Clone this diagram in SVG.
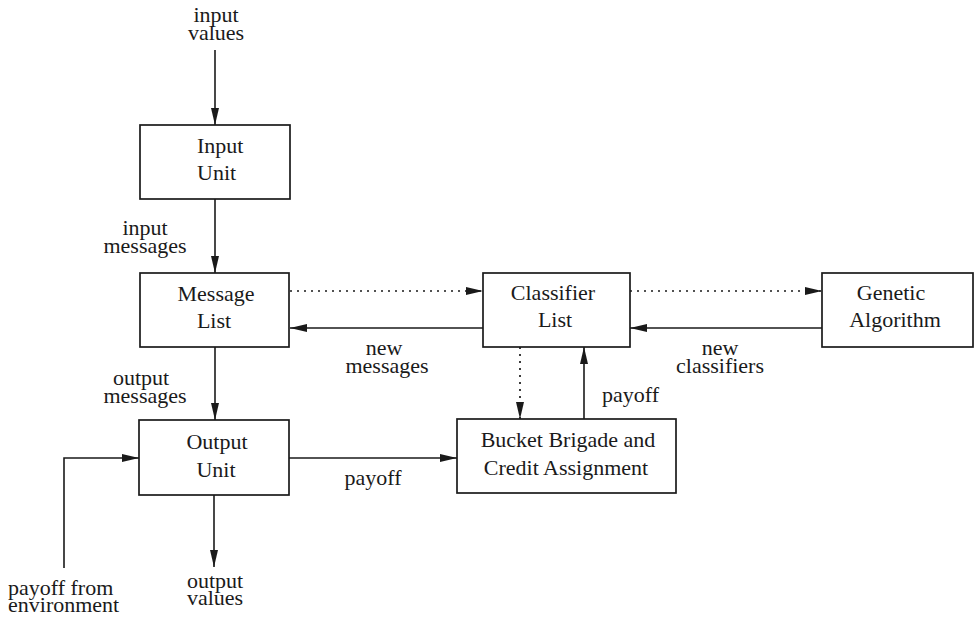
<svg xmlns="http://www.w3.org/2000/svg" width="975" height="620" viewBox="0 0 975 620">
  <style>
    .box { fill: #fff; stroke: #1a1a1a; stroke-width: 1.7; }
    .t { font-family: "Liberation Serif", "Times New Roman", serif; font-size: 22px; fill: #1a1a1a; }
    .c { text-anchor: middle; }
    .line { fill: none; stroke: #1a1a1a; stroke-width: 1.6; }
    .dot { fill: none; stroke: #1a1a1a; stroke-width: 1.7; stroke-dasharray: 2 5; }
  </style>
  <defs>
    <marker id="arrow" viewBox="0 0 17 8" refX="17" refY="4" markerWidth="17" markerHeight="8" markerUnits="userSpaceOnUse" orient="auto">
      <path d="M0,0 L17,4 L0,8 Z" fill="#1a1a1a"/>
    </marker>
  </defs>
  <rect width="975" height="620" fill="#fff"/>

  <g id="connectors">
    <path class="line" d="M215,50 V125" marker-end="url(#arrow)"/>
    <path class="line" d="M215,199 V273" marker-end="url(#arrow)"/>
    <path class="line" d="M215,347 V420" marker-end="url(#arrow)"/>
    <path class="line" d="M214,495 V567" marker-end="url(#arrow)"/>
    <path class="line" d="M64,568 V458 H139" marker-end="url(#arrow)"/>
    <path class="line" d="M289,458 H457" marker-end="url(#arrow)"/>
    <path class="dot" d="M290,291 H483" marker-end="url(#arrow)"/>
    <path class="line" d="M483,328 H290" marker-end="url(#arrow)"/>
    <path class="dot" d="M630,291 H822" marker-end="url(#arrow)"/>
    <path class="line" d="M822,328 H630" marker-end="url(#arrow)"/>
    <path class="dot" d="M520,347 V419" marker-end="url(#arrow)"/>
    <path class="line" d="M584,419 V347" marker-end="url(#arrow)"/>
  </g>

  <g id="input-values">
    <text class="t c" x="216" y="22">input</text>
    <text class="t c" x="216" y="40">values</text>
  </g>
  <g id="input-unit">
    <rect class="box" x="140" y="125" width="150" height="74"/>
    <text class="t" x="197" y="153">Input</text>
    <text class="t" x="197" y="180">Unit</text>
  </g>
  <g id="input-messages">
    <text class="t c" x="145" y="235">input</text>
    <text class="t c" x="145" y="253">messages</text>
  </g>
  <g id="message-list">
    <rect class="box" x="140" y="273" width="149" height="74"/>
    <text class="t c" x="216" y="301">Message</text>
    <text class="t c" x="214" y="328">List</text>
  </g>
  <g id="new-messages">
    <text class="t c" x="384" y="355">new</text>
    <text class="t c" x="387" y="373">messages</text>
  </g>
  <g id="output-messages">
    <text class="t c" x="141" y="385">output</text>
    <text class="t c" x="145" y="403">messages</text>
  </g>
  <g id="classifier-list">
    <rect class="box" x="483" y="273" width="147" height="74"/>
    <text class="t c" x="553" y="300">Classifier</text>
    <text class="t c" x="555" y="327">List</text>
  </g>
  <g id="genetic-algorithm">
    <rect class="box" x="822" y="273" width="151" height="74"/>
    <text class="t c" x="891" y="300">Genetic</text>
    <text class="t c" x="895" y="327">Algorithm</text>
  </g>
  <g id="new-classifiers">
    <text class="t c" x="720" y="355">new</text>
    <text class="t c" x="720" y="373">classifiers</text>
  </g>
  <g id="payoff-up">
    <text class="t" x="602" y="402">payoff</text>
  </g>
  <g id="bucket-brigade">
    <rect class="box" x="457" y="419" width="219" height="74"/>
    <text class="t c" x="568" y="447">Bucket Brigade and</text>
    <text class="t c" x="566" y="475">Credit Assignment</text>
  </g>
  <g id="output-unit">
    <rect class="box" x="139" y="420" width="150" height="75"/>
    <text class="t c" x="217" y="449">Output</text>
    <text class="t c" x="216" y="477">Unit</text>
  </g>
  <g id="payoff-right">
    <text class="t c" x="373" y="485">payoff</text>
  </g>
  <g id="output-values">
    <text class="t c" x="215" y="588">output</text>
    <text class="t c" x="215" y="605">values</text>
  </g>
  <g id="payoff-environment">
    <text class="t" x="8" y="595">payoff from</text>
    <text class="t" x="8" y="612">environment</text>
  </g>
</svg>
